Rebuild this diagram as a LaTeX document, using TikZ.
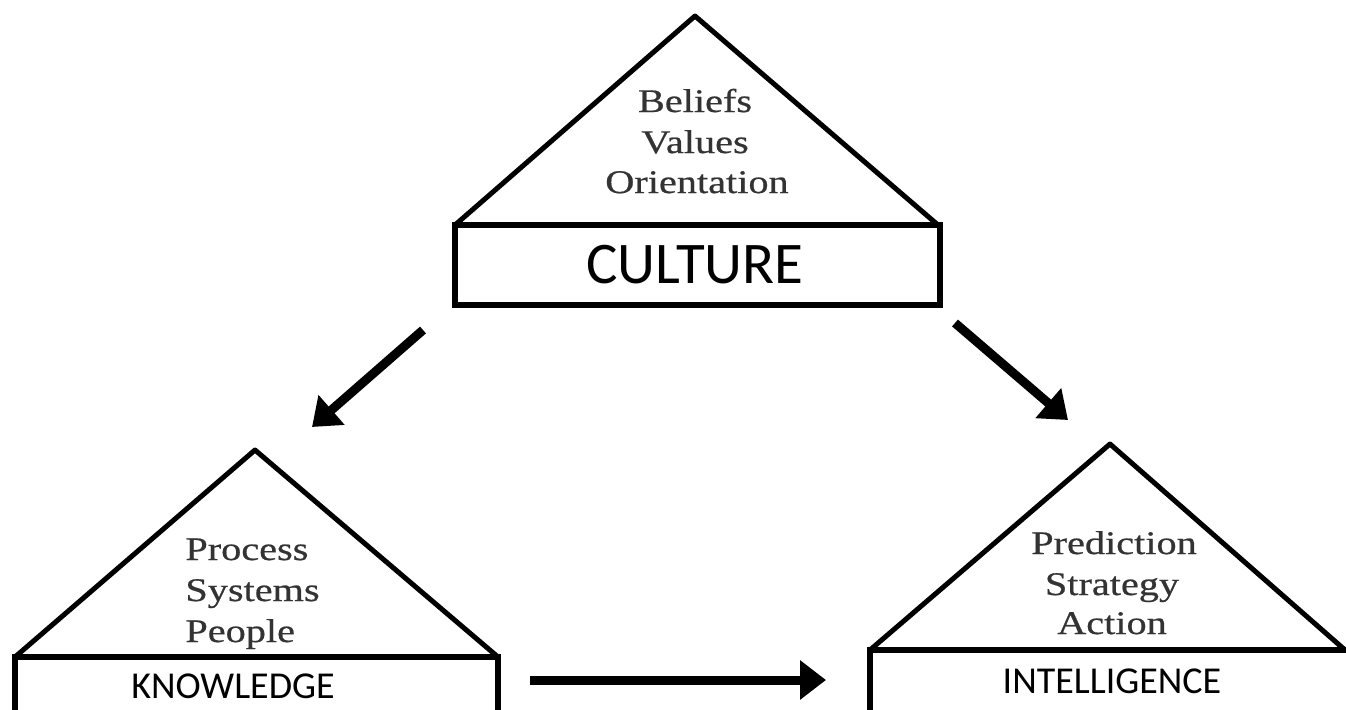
\documentclass[tikz,border=0pt]{standalone}
\usepackage{fontspec}
\setmainfont{Liberation Serif}
\newfontfamily\trifont[FakeStretch=1.22,FakeBold=0.6]{Liberation Serif}
\newfontfamily\boxfont{Carlito}
\usetikzlibrary{arrows.meta}
\tikzset{
  tri/.style={draw=black, line width=2.5pt, line join=round},
  basebox/.style={draw=black, line width=3pt},
  tritext/.style={inner sep=0pt, text=black!80, font=\trifont\fontsize{16.5pt}{20pt}\selectfont},
  bigtext/.style={inner sep=0pt, text=black, font=\boxfont\fontsize{29.5pt}{34pt}\selectfont},
  boxtext/.style={inner sep=0pt, text=black, font=\boxfont\fontsize{19pt}{23pt}\selectfont},
  flow/.style={line width=4.5pt, -{Triangle[length=13pt,width=19pt]}},
}
\begin{document}
\begin{tikzpicture}[x=0.5pt,y=-0.5pt]
\useasboundingbox (0,0) rectangle (1346,709);
\clip (0,0) rectangle (1346,709);
\fill[white] (0,0) rectangle (1346,709);
% culture
\draw[tri] (455,225) -- (695,16) -- (938,225) -- cycle;
\draw[basebox] (455,225) rectangle (940,305);
\node[tritext, anchor=base] (c1) at (695,112) {Beliefs};
\node[tritext, anchor=base] (c2) at (695,153) {Values};
\node[tritext, anchor=base] (c3) at (697,193) {Orientation};
\node[bigtext, anchor=base] (culture) at (695,283) {CULTURE};
% knowledge
\draw[tri] (15,657) -- (255,450) -- (498,657) -- cycle;
\draw[basebox] (15,657) rectangle (498,730);
\node[tritext, anchor=base west] (k1) at (185,560) {Process};
\node[tritext, anchor=base west] (k2) at (185,601) {Systems};
\node[tritext, anchor=base west] (k3) at (185,642) {People};
\node[boxtext, anchor=base] (knowledge) at (233,698) {KNOWLEDGE};
% intelligence
\draw[tri] (870,650) -- (1110,444) -- (1345,650) -- cycle;
\draw[basebox] (870,650) rectangle (1360,730);
\node[tritext, anchor=base] (i1) at (1114,554) {Prediction};
\node[tritext, anchor=base] (i2) at (1112,595) {Strategy};
\node[tritext, anchor=base] (i3) at (1112,634) {Action};
\node[boxtext, anchor=base] (intelligence) at (1112,693) {INTELLIGENCE};
% arrows
\coordinate (a1s) at (423,330);
\coordinate (a1e) at (312,427);
\coordinate (a2s) at (955,323);
\coordinate (a2e) at (1068,420);
\coordinate (a3s) at (530,680);
\coordinate (a3e) at (826,680);
\draw[flow] (a1s) -- (a1e);
\draw[flow] (a2s) -- (a2e);
\draw[flow] (a3s) -- (a3e);
\end{tikzpicture}
\end{document}
